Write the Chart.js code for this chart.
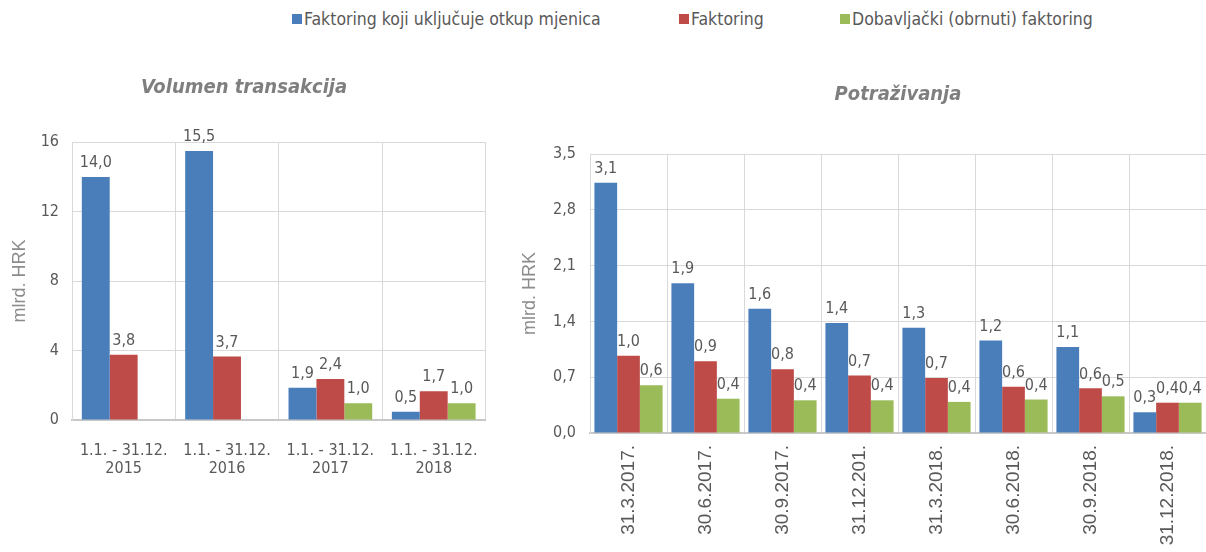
<!DOCTYPE html>
<html>
<head>
<meta charset="utf-8">
<script src="https://cdn.jsdelivr.net/npm/chart.js@4"></script>
<style>
  html, body { margin: 0; padding: 0; background: #fff; }
  body { width: 1206px; height: 552px; position: relative; overflow: hidden; }
  .legend-item { position: absolute; top: 9px; font: 17.5px 'DejaVu Sans Condensed', sans-serif; color: #595959; white-space: nowrap; }
  .legend-item span { display: inline-block; width: 10px; height: 10px; margin-right: 2px; vertical-align: 1px; }
  #left { position: absolute; left: 0; top: 0; width: 500px; height: 552px; }
  #right { position: absolute; left: 500px; top: 0; width: 706px; height: 552px; }
</style>
</head>
<body>
<div class="legend-item" style="left:292px"><span style="background:#4a7ebb"></span>Faktoring koji uključuje otkup mjenica</div>
<div class="legend-item" style="left:679px"><span style="background:#be4b48"></span>Faktoring</div>
<div class="legend-item" style="left:840px"><span style="background:#9bbb59"></span>Dobavljački (obrnuti) faktoring</div>
<div id="left"><canvas id="c1"></canvas></div>
<div id="right"><canvas id="c2"></canvas></div>
<script>
var seriesNames = ['Faktoring koji uključuje otkup mjenica', 'Faktoring', 'Dobavljački (obrnuti) faktoring'];
var seriesColors = ['#4a7ebb', '#be4b48', '#9bbb59'];

// Volumen transakcija
var volumeLabels = [['1.1. - 31.12.', '2015'], ['1.1. - 31.12.', '2016'], ['1.1. - 31.12.', '2017'], ['1.1. - 31.12.', '2018']];
var volumeBills = [13.99, 15.48, 1.86, 0.47];
var volumeFactoring = [3.76, 3.66, 2.36, 1.66];
var volumeReverse = [null, null, 0.96, 0.96];

// Potraživanja
var claimLabels = ['31.3.2017.', '30.6.2017.', '30.9.2017.', '31.12.201.', '31.3.2018.', '30.6.2018.', '30.9.2018.', '31.12.2018.'];
var claimBills = [3.14, 1.88, 1.56, 1.38, 1.32, 1.16, 1.08, 0.26];
var claimFactoring = [0.97, 0.90, 0.80, 0.72, 0.69, 0.58, 0.56, 0.38];
var claimReverse = [0.60, 0.43, 0.41, 0.41, 0.39, 0.42, 0.46, 0.38];

var narrow = "'DejaVu Sans Condensed', sans-serif";
var plain = "'Liberation Sans', Arial, sans-serif";
var textColor = '#595959';

function comma(v) {
    return v.toFixed(1).replace('.', ',');
}

// draws value above each bar
var valueLabels = {
    id: 'valueLabels',
    afterDatasetsDraw: function (chart) {
        var ctx = chart.ctx;
        ctx.save();
        ctx.font = '16px ' + narrow;
        ctx.fillStyle = textColor;
        ctx.textAlign = 'center';
        ctx.textBaseline = 'bottom';
        chart.data.datasets.forEach(function (ds, i) {
            var meta = chart.getDatasetMeta(i);
            meta.data.forEach(function (bar, j) {
                var v = ds.data[j];
                if (v === null || v === undefined) return;
                ctx.fillText(comma(v), bar.x, bar.y - 6);
            });
        });
        ctx.restore();
    }
};

function makeDatasets(values, catPct) {
    var out = [];
    for (var i = 0; i < values.length; i++) {
        out.push({
            label: seriesNames[i],
            data: values[i],
            backgroundColor: seriesColors[i],
            categoryPercentage: catPct,
            barPercentage: 1.0
        });
    }
    return out;
}

function makeOptions(o) {
    return {
        responsive: true,
        maintainAspectRatio: false,
        animation: false,
        layout: {padding: {left: 0, right: o.padRight, top: 0, bottom: 0}},
        plugins: {
            legend: {display: false},
            tooltip: {enabled: false},
            title: {
                display: true,
                text: o.title,
                fullSize: o.titleFull,
                color: '#7f7f7f',
                font: {family: narrow, size: 20, style: 'italic', weight: 'bold', lineHeight: 1.2},
                padding: {top: o.titleTop, bottom: o.titleBottom}
            }
        },
        scales: {
            x: {
                grid: {display: true, offset: true, color: '#d9d9d9', drawTicks: false},
                border: {display: true, color: '#c8c8c8', width: 2},
                ticks: {
                    color: textColor,
                    font: o.xFont,
                    padding: o.xPad,
                    maxRotation: o.rot,
                    minRotation: o.rot,
                    autoSkip: false
                },
                afterFit: function (scale) { scale.height = o.xHeight; }
            },
            y: {
                min: 0,
                max: o.max,
                grid: {color: '#d9d9d9', drawTicks: false},
                border: {display: true, color: '#d9d9d9'},
                ticks: {
                    stepSize: o.step,
                    color: textColor,
                    font: {family: narrow, size: 16},
                    padding: o.yPad,
                    callback: o.fmt
                },
                title: {
                    display: true,
                    text: 'mlrd. HRK',
                    color: '#8c8c8c',
                    font: {family: plain, size: 18, lineHeight: 1.2},
                    padding: {top: o.yTitlePad, bottom: 0}
                },
                afterFit: function (scale) { scale.width = o.yWidth; }
            }
        }
    };
}

new Chart(document.getElementById('c1'), {
    type: 'bar',
    data: {
        labels: volumeLabels,
        datasets: makeDatasets([volumeBills, volumeFactoring, volumeReverse], 0.81)
    },
    options: makeOptions({
        title: 'Volumen transakcija', titleFull: true, titleTop: 76, titleBottom: 42,
        padRight: 12, xHeight: 132, xPad: 21, rot: 0,
        xFont: {family: narrow, size: 16, lineHeight: 1.18},
        max: 16, step: 4, yPad: 13, yWidth: 72, yTitlePad: 9,
        fmt: function (v) { return String(v); }
    }),
    plugins: [valueLabels]
});

new Chart(document.getElementById('c2'), {
    type: 'bar',
    data: {
        labels: claimLabels,
        datasets: makeDatasets([claimBills, claimFactoring, claimReverse], 0.885)
    },
    options: makeOptions({
        title: 'Potraživanja', titleFull: false, titleTop: 83, titleBottom: 47,
        padRight: 0, xHeight: 119, xPad: 12, rot: 90,
        xFont: {family: plain, size: 19},
        max: 3.5, step: 0.7, yPad: 14, yWidth: 90, yTitlePad: 19,
        fmt: function (v) { return comma(v); }
    }),
    plugins: [valueLabels]
});
</script>
</body>
</html>
